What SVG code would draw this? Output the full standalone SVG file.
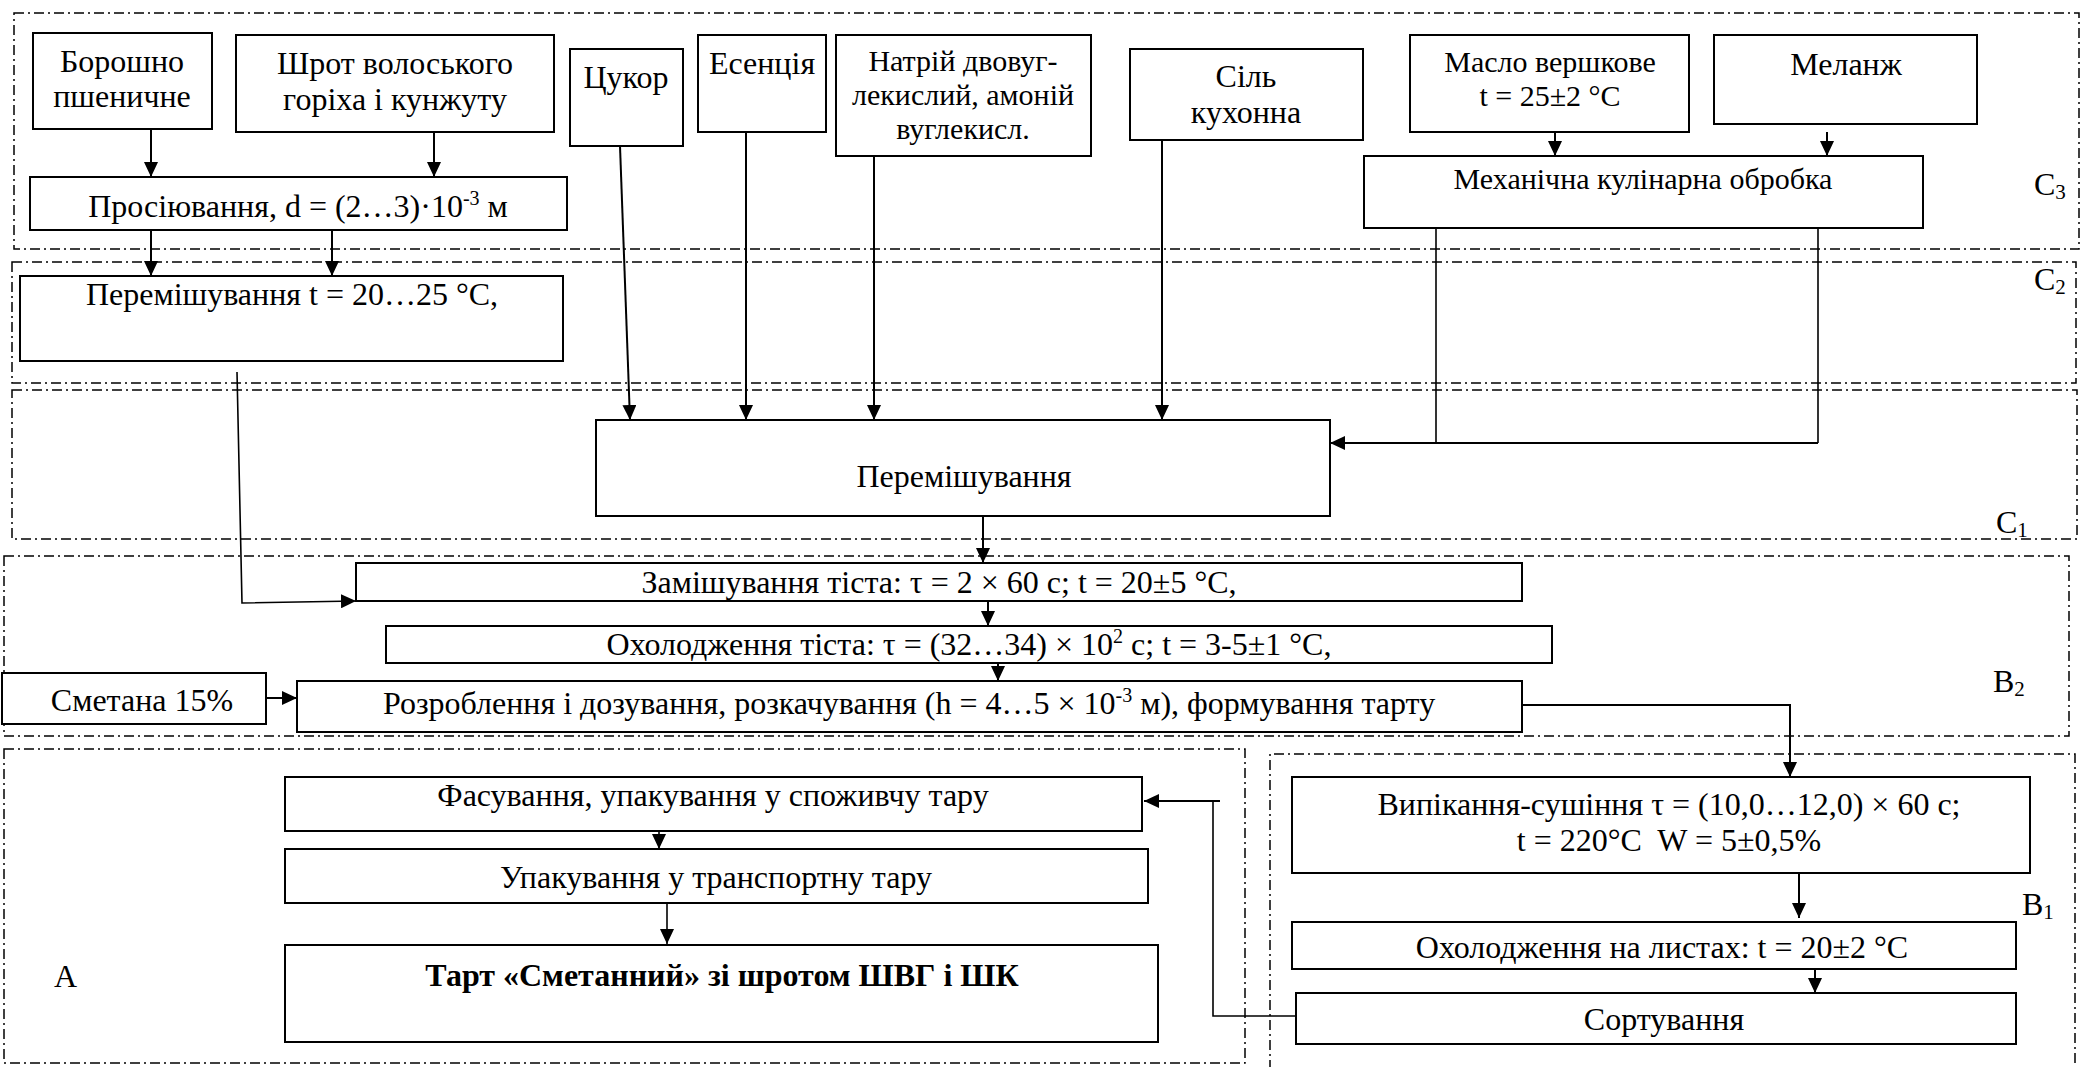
<svg xmlns="http://www.w3.org/2000/svg" width="2082" height="1067" viewBox="0 0 2082 1067">
<defs>
<marker id="arr" viewBox="0 0 15 14" markerWidth="15" markerHeight="14" refX="15" refY="7" orient="auto" markerUnits="userSpaceOnUse">
<path d="M0,0 L15,7 L0,14 z" fill="#000"/>
</marker>
<style>
.zone{fill:none;stroke:#000;stroke-width:1.5;stroke-dasharray:10 4 2 4}
.box{fill:#fff;stroke:#000;stroke-width:2}
.t{font-family:"Liberation Serif","Times New Roman",serif;font-size:32px;fill:#000;text-anchor:middle}
.ts{font-family:"Liberation Serif","Times New Roman",serif;font-size:30px;fill:#000;text-anchor:middle}
.lbl{font-family:"Liberation Serif","Times New Roman",serif;font-size:32px;fill:#000}
.c{fill:none;stroke:#000;stroke-width:2}
.ca{fill:none;stroke:#000;stroke-width:2;marker-end:url(#arr)}
</style>
</defs>
<rect width="2082" height="1067" fill="#fff"/>

<g id="zones">
<rect class="zone" x="14" y="13" width="2065" height="236"/>
<rect class="zone" x="12" y="262" width="2064" height="121"/>
<rect class="zone" x="12" y="390" width="2065" height="149"/>
<rect class="zone" x="4" y="556" width="2065" height="180"/>
<rect class="zone" x="4" y="749" width="1241" height="314"/>
<path class="zone" d="M1270,1070 V754 H2075 V1070"/>
<text class="lbl" x="2034" y="195">C<tspan font-size="21" dy="4">3</tspan></text>
<text class="lbl" x="2034" y="290">C<tspan font-size="21" dy="4">2</tspan></text>
<text class="lbl" x="1996" y="533">C<tspan font-size="21" dy="4">1</tspan></text>
<text class="lbl" x="1993" y="692">B<tspan font-size="21" dy="4">2</tspan></text>
<text class="lbl" x="2022" y="915">B<tspan font-size="21" dy="4">1</tspan></text>
<text class="lbl" x="54" y="987">A</text>
</g>

<g id="connectors">
<line class="ca" x1="151" y1="129" x2="151" y2="177"/>
<line class="ca" x1="434" y1="132" x2="434" y2="177"/>
<line class="ca" x1="151" y1="230" x2="151" y2="276"/>
<line class="ca" x1="332" y1="230" x2="332" y2="276"/>
<polyline class="ca" points="237,372 242,603 356,601" style="stroke-width:1.6"/>
<line class="ca" x1="620" y1="146" x2="630" y2="420"/>
<line class="ca" x1="746" y1="132" x2="746" y2="420"/>
<line class="ca" x1="874" y1="156" x2="874" y2="420"/>
<line class="ca" x1="1162" y1="140" x2="1162" y2="420"/>
<line class="ca" x1="1555" y1="132" x2="1555" y2="156"/>
<line class="ca" x1="1827" y1="132" x2="1827" y2="156"/>
<line class="c" x1="1436" y1="228" x2="1436" y2="443" style="stroke-width:1.6"/>
<line class="c" x1="1818" y1="218" x2="1818" y2="443" style="stroke-width:1.6"/>
<line class="ca" x1="1818" y1="443" x2="1330" y2="443"/>
<line class="ca" x1="983" y1="516" x2="983" y2="563"/>
<line class="ca" x1="988" y1="601" x2="988" y2="626"/>
<line class="ca" x1="998" y1="663" x2="998" y2="681"/>
<line class="ca" x1="266" y1="698" x2="297" y2="698"/>
<polyline class="ca" points="1522,705 1790,705 1790,777"/>
<line class="ca" x1="1799" y1="873" x2="1799" y2="918"/>
<line class="ca" x1="1815" y1="969" x2="1815" y2="993"/>
<polyline class="c" points="1296,1016 1213,1016 1213,801" style="stroke-width:1.6"/>
<line class="ca" x1="1220" y1="801" x2="1144" y2="801"/>
<line class="ca" x1="659" y1="831" x2="659" y2="849" style="stroke-width:1.6"/>
<line class="ca" x1="667" y1="903" x2="667" y2="944" style="stroke-width:1.6"/>
</g>

<g id="n_boroshno"><rect class="box" x="33" y="33" width="179" height="96"/>
<text class="t" x="122" y="72">Борошно</text><text class="t" x="122" y="107">пшеничне</text></g>
<g id="n_shrot"><rect class="box" x="236" y="35" width="318" height="97"/>
<text class="t" x="395" y="74">Шрот волоського</text><text class="t" x="395" y="110">горіха і кунжуту</text></g>
<g id="n_tsukor"><rect class="box" x="570" y="49" width="113" height="97"/>
<text class="t" x="626" y="88">Цукор</text></g>
<g id="n_esentsiia"><rect class="box" x="698" y="35" width="128" height="97"/>
<text class="t" x="762" y="74">Есенція</text></g>
<g id="n_natrii"><rect class="box" x="836" y="35" width="255" height="121"/>
<text class="ts" x="963" y="71">Натрій двовуг-</text><text class="ts" x="963" y="105">лекислий, амоній</text><text class="ts" x="963" y="139">вуглекисл.</text></g>
<g id="n_sil"><rect class="box" x="1130" y="49" width="233" height="91"/>
<text class="t" x="1246" y="87">Сіль</text><text class="t" x="1246" y="123">кухонна</text></g>
<g id="n_maslo"><rect class="box" x="1410" y="35" width="279" height="97"/>
<text class="ts" x="1550" y="72">Масло вершкове</text><text class="ts" x="1550" y="106">t = 25±2 °C</text></g>
<g id="n_melanzh"><rect class="box" x="1714" y="35" width="263" height="89"/>
<text class="t" x="1846" y="75">Меланж</text></g>
<g id="n_mekh"><rect class="box" x="1364" y="156" width="559" height="72"/>
<text class="ts" x="1643" y="189">Механічна кулінарна обробка</text></g>
<g id="n_prosiiuvannia"><rect class="box" x="30" y="177" width="537" height="53"/>
<text class="t" x="298" y="217">Просіювання, d = (2…3)·10<tspan font-size="20" dy="-12">-3</tspan><tspan dy="12"> м</tspan></text></g>
<g id="n_peremish_t"><rect class="box" x="20" y="276" width="543" height="85"/>
<text class="t" x="292" y="305">Перемішування t = 20…25 °C,</text></g>
<g id="n_peremish"><rect class="box" x="596" y="420" width="734" height="96"/>
<text class="t" x="964" y="487">Перемішування</text></g>
<g id="n_zamish"><rect class="box" x="356" y="563" width="1166" height="38"/>
<text class="t" x="939" y="593">Замішування тіста: τ = 2 × 60 с; t = 20±5 °C,</text></g>
<g id="n_okholodzh"><rect class="box" x="386" y="626" width="1166" height="37"/>
<text class="t" x="969" y="655">Охолодження тіста: τ = (32…34) × 10<tspan font-size="20" dy="-12">2</tspan><tspan dy="12"> с; t = 3-5±1 °C,</tspan></text></g>
<g id="n_smetana"><rect class="box" x="2" y="673" width="264" height="51"/>
<text class="t" x="142" y="711">Сметана 15%</text></g>
<g id="n_rozroblennia"><rect class="box" x="297" y="681" width="1225" height="51"/>
<text class="t" x="909" y="714">Розроблення і дозування, розкачування (h = 4…5 × 10<tspan font-size="20" dy="-12">-3</tspan><tspan dy="12"> м), формування тарту</tspan></text></g>
<g id="n_vypikannia"><rect class="box" x="1292" y="777" width="738" height="96"/>
<text class="t" x="1669" y="815">Випікання-сушіння τ = (10,0…12,0) × 60 с;</text>
<text class="t" x="1669" y="851" style="white-space:pre">t = 220°C  W = 5±0,5%</text></g>
<g id="n_okhol_lysty"><rect class="box" x="1292" y="922" width="724" height="47"/>
<text class="t" x="1662" y="958">Охолодження на листах: t = 20±2 °C</text></g>
<g id="n_sortuvannia"><rect class="box" x="1296" y="993" width="720" height="51"/>
<text class="t" x="1664" y="1030">Сортування</text></g>
<g id="n_fasuvannia"><rect class="box" x="285" y="777" width="857" height="54"/>
<text class="t" x="713" y="806">Фасування, упакування у споживчу тару</text></g>
<g id="n_upakuvannia"><rect class="box" x="285" y="849" width="863" height="54"/>
<text class="t" x="716" y="888">Упакування у транспортну тару</text></g>
<g id="n_tart"><rect class="box" x="285" y="945" width="873" height="97"/>
<text class="t" x="722" y="986" font-weight="bold">Тарт «Сметанний» зі шротом ШВГ і ШК</text></g>
</svg>
